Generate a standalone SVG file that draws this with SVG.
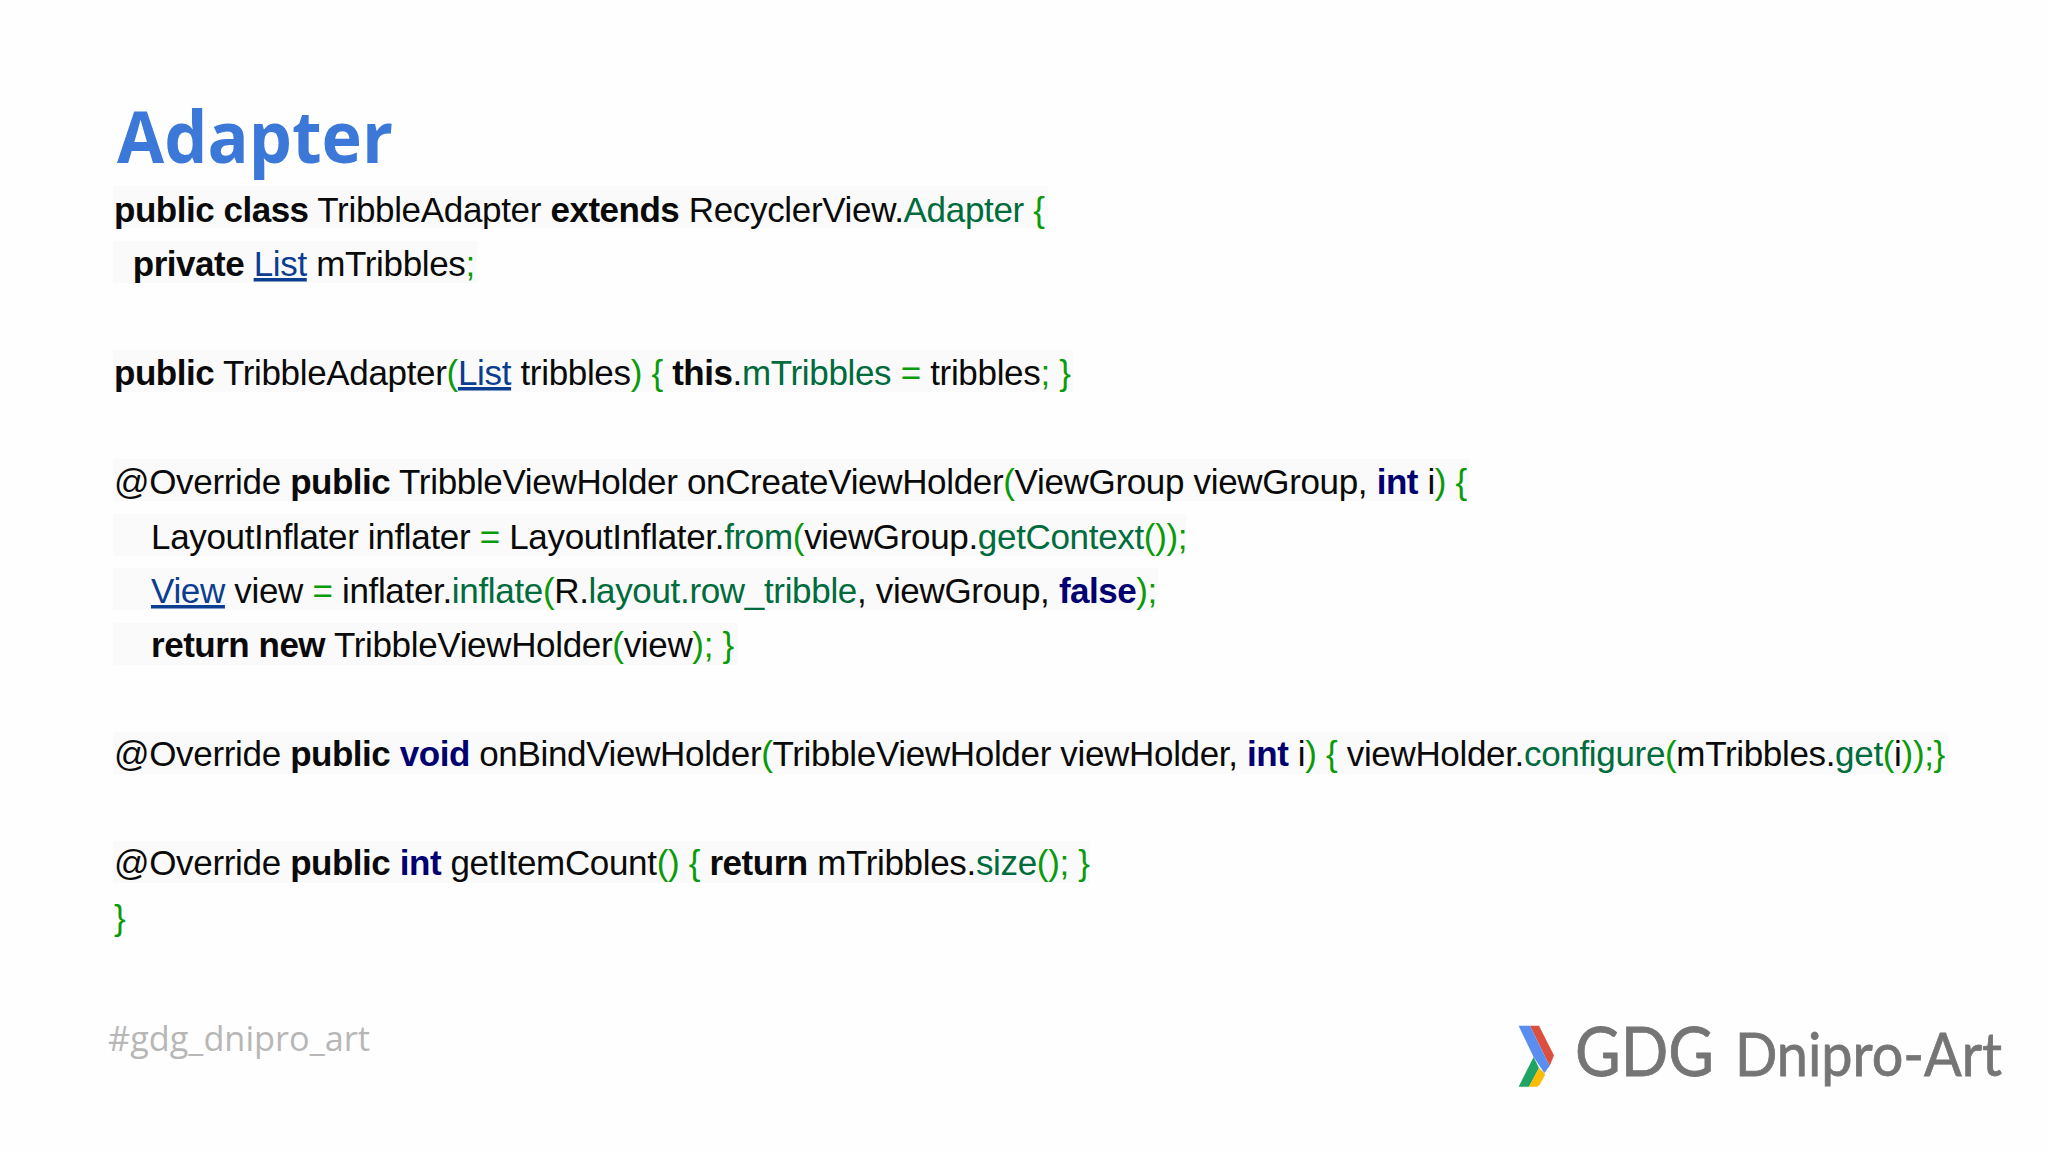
<svg xmlns="http://www.w3.org/2000/svg" width="2048" height="1152" viewBox="0 0 2048 1152">
<style>
.c{font-family:"Liberation Sans",Arial,sans-serif;font-size:35px;letter-spacing:-.33px;fill:#0a0a0a;white-space:pre}
.b{font-weight:bold;letter-spacing:-.48px}
.g{fill:#006b3c}
.p{fill:#0a9a0a}
.n{fill:#000070}
.l{fill:#0b3d91;text-decoration:underline}
.bg{fill:#fafafa}
.lg{font-family:Lato,sans-serif;fill:#757575;stroke:#757575;stroke-width:.8}
</style>
<rect width="2048" height="1152" fill="#fefefe"/>
<g id="line-backgrounds">
<rect class="bg" x="113" y="186" width="935" height="42"/>
<rect class="bg" x="113" y="241" width="364" height="42"/>
<rect class="bg" x="113" y="350" width="960" height="42"/>
<rect class="bg" x="113" y="459" width="1356" height="42"/>
<rect class="bg" x="113" y="514" width="1073" height="42"/>
<rect class="bg" x="113" y="568" width="1045" height="42"/>
<rect class="bg" x="113" y="623" width="625" height="42"/>
<rect class="bg" x="113" y="732" width="1835" height="42"/>
<rect class="bg" x="113" y="841" width="977" height="42"/>
</g>
<g id="title"><text x="117" y="163" font-family="'Open Sans',sans-serif" font-weight="700" font-size="72" fill="#3c78d8" textLength="276" lengthAdjust="spacingAndGlyphs">Adapter</text></g>
<g id="code">
<text class="c" x="114" y="222"><tspan class="b">public class</tspan> TribbleAdapter <tspan class="b">extends</tspan> RecyclerView.<tspan class="g">Adapter</tspan> <tspan class="p">{</tspan></text>
<text class="c" x="114" y="276">  <tspan class="b">private</tspan> <tspan class="l">List</tspan> mTribbles<tspan class="p">;</tspan></text>
<text class="c" x="114" y="385"><tspan class="b">public</tspan> TribbleAdapter<tspan class="p">(</tspan><tspan class="l">List</tspan> tribbles<tspan class="p">)</tspan> <tspan class="p">{</tspan> <tspan class="b">this</tspan>.<tspan class="g">mTribbles</tspan> <tspan class="p">=</tspan> tribbles<tspan class="p">;</tspan> <tspan class="p">}</tspan></text>
<text class="c" x="114" y="494">@Override <tspan class="b">public</tspan> TribbleViewHolder onCreateViewHolder<tspan class="p">(</tspan>ViewGroup viewGroup, <tspan class="b n">int</tspan> i<tspan class="p">)</tspan> <tspan class="p">{</tspan></text>
<text class="c" x="151" y="549">LayoutInflater inflater <tspan class="p">=</tspan> LayoutInflater.<tspan class="g">from</tspan><tspan class="p">(</tspan>viewGroup.<tspan class="g">getContext</tspan><tspan class="p">());</tspan></text>
<text class="c" x="151" y="603"><tspan class="l">View</tspan> view <tspan class="p">=</tspan> inflater.<tspan class="g">inflate</tspan><tspan class="p">(</tspan>R.<tspan class="g">layout.row_tribble</tspan>, viewGroup, <tspan class="b n">false</tspan><tspan class="p">);</tspan></text>
<text class="c" x="151" y="657"><tspan class="b">return new</tspan> TribbleViewHolder<tspan class="p">(</tspan>view<tspan class="p">);</tspan> <tspan class="p">}</tspan></text>
<text class="c" x="114" y="766">@Override <tspan class="b">public</tspan> <tspan class="b n">void</tspan> onBindViewHolder<tspan class="p">(</tspan>TribbleViewHolder viewHolder, <tspan class="b n">int</tspan> i<tspan class="p">)</tspan> <tspan class="p">{</tspan> viewHolder.<tspan class="g">configure</tspan><tspan class="p">(</tspan>mTribbles.<tspan class="g">get</tspan><tspan class="p">(</tspan>i<tspan class="p">));}</tspan></text>
<text class="c" x="114" y="875">@Override <tspan class="b">public</tspan> <tspan class="b n">int</tspan> getItemCount<tspan class="p">()</tspan> <tspan class="p">{</tspan> <tspan class="b">return</tspan> mTribbles.<tspan class="g">size</tspan><tspan class="p">();</tspan> <tspan class="p">}</tspan></text>
<text class="c" x="114" y="930"><tspan class="p">}</tspan></text>
</g>
<g id="hashtag"><text x="108" y="1051" font-family="'Open Sans',sans-serif" font-size="35" fill="#b7b7b7" textLength="262" lengthAdjust="spacingAndGlyphs">#gdg_dnipro_art</text></g>
<g id="logo">
<polygon points="1530,1025.7 1539,1025.7 1554,1055.4 1549.6,1066" fill="#dc4f3f"/>
<polygon points="1518.6,1086.8 1533.6,1057 1539,1068 1529,1086.8" fill="#1fa463"/>
<polygon points="1529,1086.8 1539,1068 1544.3,1073 1545,1075 1539.5,1085 1537,1086.8" fill="#fbbc05"/>
<polygon points="1518.6,1025.7 1530,1025.7 1549.6,1066 1544.3,1073 1533.6,1057" fill="#5a8df0"/>
<text class="lg" x="1575" y="1076" font-size="68" textLength="139" lengthAdjust="spacingAndGlyphs">GDG</text>
<text class="lg" x="1735" y="1076" font-size="60" textLength="267" lengthAdjust="spacingAndGlyphs">Dnipro-Art</text>
</g>
</svg>
